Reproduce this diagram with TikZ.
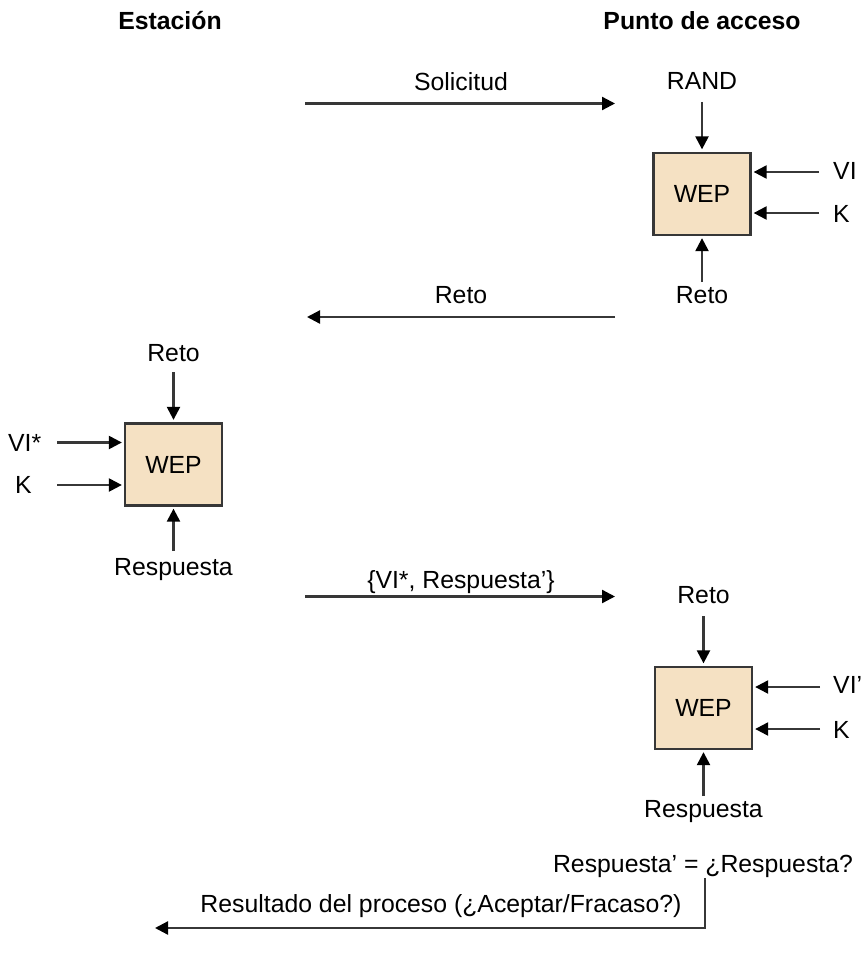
\documentclass[tikz,border=0pt]{standalone}
\usepackage{fontspec}
\setmainfont{Liberation Sans}
\usetikzlibrary{arrows.meta}
\definecolor{wepfill}{RGB}{245,225,195}
\definecolor{linegray}{RGB}{55,55,55}
\tikzset{
  lbl/.style={anchor=base, inner sep=0pt, font=\fontsize{24.8}{29}\selectfont},
  lbll/.style={lbl, anchor=base west},
  head/.style={lbl, font=\fontsize{24.8}{29}\selectfont\bfseries},
  wep/.style={draw=linegray, line width=2.3pt, fill=wepfill, minimum width=97pt,
    minimum height=82pt, inner sep=0pt, font=\fontsize{24.8}{29}\selectfont},
  arr/.style={draw=linegray, line width=2.3pt,
    -{Triangle[length=13pt,width=13pt,color=black]}},
  plain/.style={draw=linegray, line width=2.3pt}
}
\begin{document}
\begin{tikzpicture}[x=1pt,y=-1pt]
\useasboundingbox (0,0) rectangle (861,963);

% column headings
\node[head] (hsta) at (170,29.5) {Estación};
\node[head] (hap)  at (702,29.5) {Punto de acceso};

% request from the station
\node[lbl] (lsol) at (461,90.5) {Solicitud};
\coordinate (sol-a) at (305,103.5);
\coordinate (sol-b) at (615,103.5);
\draw[arr] (sol-a) -- (sol-b);

% first WEP block at the access point
\node[wep] (wep1) at (702,194) {WEP};
\node[lbl] (rand) at (702,89.5) {RAND};
\coordinate (rand-o) at (702,102);
\draw[arr, shorten >=2.5pt] (rand-o) -- (wep1.north);
\node[lbll] (vi1) at (833,179) {VI};
\coordinate (vi1-o) at (819,172);
\draw[arr, shorten >=2pt] (vi1-o) -- (vi1-o -| wep1.east);
\node[lbll] (k1) at (833,222) {K};
\coordinate (k1-o) at (819,213);
\draw[arr, shorten >=2pt] (k1-o) -- (k1-o -| wep1.east);
\node[lbl] (reto1) at (702,303) {Reto};
\coordinate (reto1-o) at (702,282);
\draw[arr, shorten >=2pt] (reto1-o) -- (wep1.south);

% challenge back to the station
\node[lbl] (lreto) at (461,303) {Reto};
\coordinate (reto-a) at (615,317);
\coordinate (reto-b) at (307,317);
\draw[arr] (reto-a) -- (reto-b);

% WEP block at the station
\node[wep] (wep2) at (173.5,464.5) {WEP};
\node[lbl] (reto2) at (173.5,361) {Reto};
\coordinate (reto2-o) at (173.5,372);
\draw[arr, shorten >=2.5pt] (reto2-o) -- (wep2.north);
\node[lbll] (vi2) at (8,451) {VI*};
\coordinate (vi2-o) at (57,442.5);
\draw[arr, shorten >=2pt] (vi2-o) -- (vi2-o -| wep2.west);
\node[lbll] (k2) at (15,493) {K};
\coordinate (k2-o) at (57,485);
\draw[arr, shorten >=2pt] (k2-o) -- (k2-o -| wep2.west);
\node[lbl] (resp2) at (173.5,575) {Respuesta};
\coordinate (resp2-o) at (173.5,551);
\draw[arr, shorten >=2pt] (resp2-o) -- (wep2.south);

% response to the access point
\node[lbl] (lresp) at (461,588) {\{VI*, Respuesta’\}};
\coordinate (resp-a) at (305,596.5);
\coordinate (resp-b) at (615,596.5);
\draw[arr] (resp-a) -- (resp-b);

% second WEP block at the access point
\node[wep] (wep3) at (703.5,708) {WEP};
\node[lbl] (reto3) at (703.5,603) {Reto};
\coordinate (reto3-o) at (703.5,616);
\draw[arr, shorten >=2.5pt] (reto3-o) -- (wep3.north);
\node[lbll] (vi3) at (833,693) {VI’};
\coordinate (vi3-o) at (820,687);
\draw[arr, shorten >=2pt] (vi3-o) -- (vi3-o -| wep3.east);
\node[lbll] (k3) at (833,738) {K};
\coordinate (k3-o) at (820,729);
\draw[arr, shorten >=2pt] (k3-o) -- (k3-o -| wep3.east);
\node[lbl] (resp3) at (703.5,817) {Respuesta};
\coordinate (resp3-o) at (703.5,796);
\draw[arr, shorten >=2pt] (resp3-o) -- (wep3.south);

% comparison and result
\node[lbl] (cmp) at (703,872) {Respuesta’ = ¿Respuesta?};
\coordinate (res-top) at (705,878);
\coordinate (res-corner) at (705,928);
\coordinate (res-end) at (155,928);
\draw[arr] (res-top) -- (res-corner) -- (res-end);
\node[lbl] (lres) at (441,912) {Resultado del proceso (¿Aceptar/Fracaso?)};
\end{tikzpicture}
\end{document}
